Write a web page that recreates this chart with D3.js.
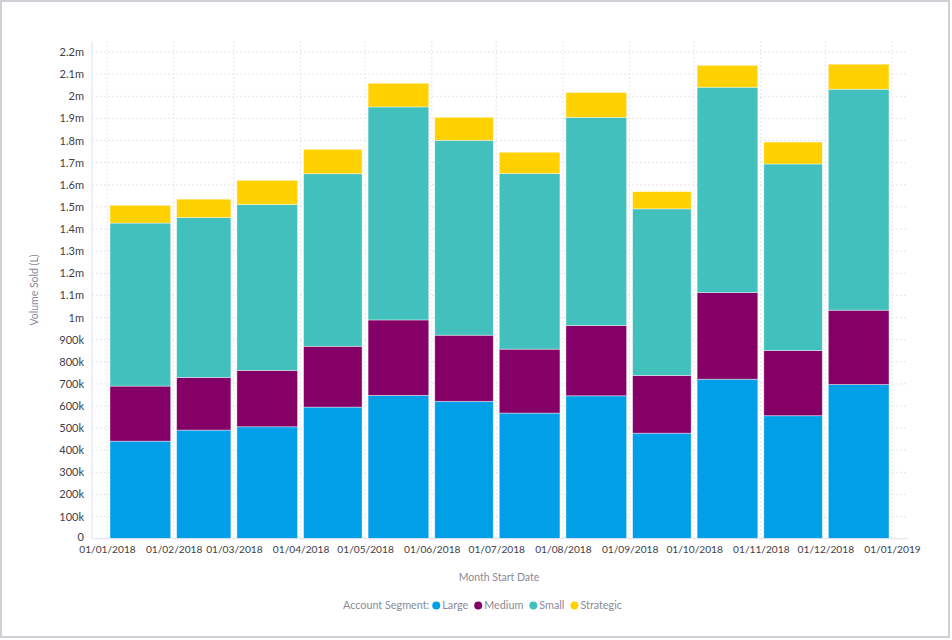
<!DOCTYPE html>
<html lang="en">
  <head>
    <meta charset="UTF-8" />
    <title>Volume Sold by Account Segment</title>
    <style>
      body { margin: 0; background: #fff; }
      svg { display: block; font-family: Lato, "Open Sans", sans-serif; }
    </style>
  </head>
  <body>
    <svg id="chart"></svg>
  </body>
</html>

<script src="https://cdnjs.cloudflare.com/ajax/libs/d3/7.0.1/d3.min.js"></script>

<script>
  // month start dates
  const months = [
    "2018-01-01", "2018-02-01", "2018-03-01", "2018-04-01", "2018-05-01", "2018-06-01",
    "2018-07-01", "2018-08-01", "2018-09-01", "2018-10-01", "2018-11-01", "2018-12-01",
  ];
  // volume sold (L) per segment
  const large = [441000, 491000, 506000, 595000, 648000, 621000, 568000, 646000, 477000, 721000, 556000, 697000];
  const medium = [249000, 238000, 255000, 275000, 341000, 299000, 289000, 318000, 261000, 392000, 295000, 336000];
  const small = [737000, 723000, 750000, 780000, 963000, 881000, 794000, 941000, 753000, 928000, 843000, 999000];
  const strategic = [80000, 83000, 109000, 110000, 107000, 104000, 96000, 112000, 78000, 99000, 99000, 113000];

  const segments = ["Large", "Medium", "Small", "Strategic"];
  const colors = ["#009fe8", "#850066", "#41c0be", "#ffd100"];
  const yTicks = d3.range(0, 23).map((i) => i * 100000);

  const parse = d3.timeParse("%Y-%m-%d");
  const rows = months.map((m, i) => ({
    date: parse(m),
    Large: large[i],
    Medium: medium[i],
    Small: small[i],
    Strategic: strategic[i],
  }));

  const width = 952,
    height = 640,
    plot = { left: 92, right: 908, top: 41, bottom: 538.7 };

  const svg = d3.select("#chart").attr("width", width).attr("height", height);

  // outer frame
  svg.append("rect")
    .attr("x", 1).attr("y", 1).attr("width", 948).attr("height", 636)
    .attr("fill", "none").attr("stroke", "#cfcfd6").attr("stroke-width", 2);

  const x = d3.scaleTime()
    .domain([parse("2018-01-01"), parse("2019-01-01")])
    .range([plot.left + 15, plot.right - 16]);

  const y = d3.scaleLinear()
    .domain([0, 2250000])
    .range([plot.bottom, plot.top]);

  const xTicks = d3.timeMonth.range(parse("2018-01-01"), parse("2019-01-02"));

  // grid
  svg.append("g").selectAll("line").data(yTicks.slice(1)).join("line")
    .attr("x1", plot.left).attr("x2", plot.right)
    .attr("y1", (d) => y(d)).attr("y2", (d) => y(d))
    .attr("stroke", "#e6e6ea").attr("stroke-dasharray", "2,2");
  svg.append("g").selectAll("line").data(xTicks).join("line")
    .attr("x1", (d) => x(d)).attr("x2", (d) => x(d))
    .attr("y1", plot.top).attr("y2", plot.bottom)
    .attr("stroke", "#e6e6ea").attr("stroke-dasharray", "2,2");

  // stacked bars
  const stack = d3.stack().keys(segments)(rows);
  svg.append("g").selectAll("g").data(stack).join("g")
    .attr("fill", (d, i) => colors[i])
    .selectAll("rect").data((d) => d).join("rect")
    .attr("x", (d) => x(d.data.date) + 3)
    .attr("width", (d) => x(d3.timeMonth.offset(d.data.date, 1)) - x(d.data.date) - 6)
    .attr("y", (d) => y(d[1]))
    .attr("height", (d) => y(d[0]) - y(d[1]))
    .attr("stroke", "#ffffff").attr("stroke-opacity", 0.5).attr("stroke-width", 0.8);

  // axes
  const fmt = (v) => (v === 0 ? "0" : v < 1e6 ? Math.round(v / 1000) + "k" : +(v / 1e6).toFixed(1) + "m");
  const yAxis = svg.append("g")
    .attr("transform", `translate(${plot.left},0)`)
    .call(d3.axisLeft(y).tickValues(yTicks).tickFormat(fmt).tickSize(0).tickPadding(8));
  yAxis.select(".domain").attr("stroke", "#e0e0ec").attr("d", `M0,${plot.top}V${plot.bottom}`);
  yAxis.selectAll(".tick text").attr("font-size", 11);
  // lift the "0" a touch so it clears the first date label
  yAxis.selectAll(".tick text").filter((d) => d === 0).attr("dy", "0.2em");

  const xAxis = svg.append("g")
    .attr("transform", `translate(0,${plot.bottom})`)
    .call(d3.axisBottom(x).tickValues(xTicks).tickFormat(d3.timeFormat("%d/%m/%Y")).tickSize(0).tickPadding(6));
  xAxis.select(".domain").attr("stroke", "#e0e0ec").attr("d", `M${plot.left},0H${plot.right}`);
  xAxis.selectAll(".tick text").attr("font-size", 10.2).attr("dy", "0.78em");

  svg.selectAll(".tick text")
    .attr("fill", "#3d3d48").attr("font-family", "Lato, sans-serif");

  // axis titles
  svg.append("text")
    .attr("transform", "translate(38,290) rotate(-90)")
    .attr("text-anchor", "middle").attr("font-size", 10.5).attr("fill", "#8a8a98")
    .text("Volume Sold (L)");
  svg.append("text")
    .attr("x", 499).attr("y", 581)
    .attr("text-anchor", "middle").attr("font-size", 10.5).attr("fill", "#8a8a98")
    .text("Month Start Date");

  // legend
  const legend = svg.append("g").attr("transform", "translate(343,609)");
  const lt = legend.append("text").attr("font-size", 10.8).attr("fill", "#8a8a98").text("Account Segment:");
  let lx = lt.node().getComputedTextLength() + 7;
  segments.forEach((s, i) => {
    legend.append("circle").attr("cx", lx).attr("cy", -3.5).attr("r", 4).attr("fill", colors[i]);
    const t = legend.append("text").attr("x", lx + 6).attr("font-size", 10.8).attr("fill", "#8a8a98").text(s);
    lx += 6 + t.node().getComputedTextLength() + 10;
  });
</script>
